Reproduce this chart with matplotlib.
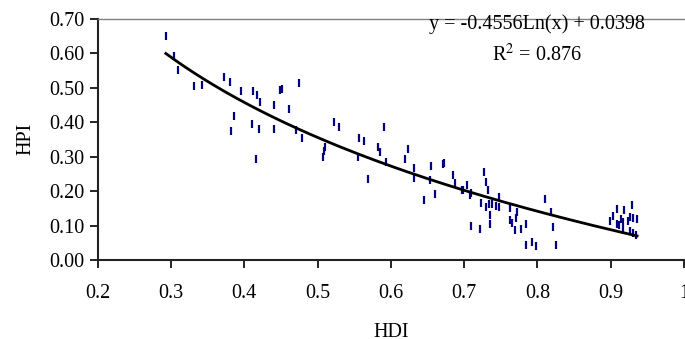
import numpy as np
import matplotlib.pyplot as plt

# HDI / HPI pairs
hdi = [0.293, 0.304, 0.309, 0.332, 0.342, 0.372, 0.380, 0.386, 0.382, 0.396,
       0.410, 0.412, 0.417, 0.421, 0.420, 0.416, 0.441, 0.440, 0.449, 0.452,
       0.461, 0.475, 0.471, 0.479, 0.508, 0.509, 0.510, 0.522, 0.529, 0.556,
       0.564, 0.555, 0.569, 0.583, 0.585, 0.591, 0.594, 0.623, 0.620, 0.632,
       0.632, 0.645, 0.655, 0.653, 0.660, 0.671, 0.672, 0.685, 0.688, 0.697,
       0.699, 0.704, 0.708, 0.710, 0.709, 0.722, 0.727, 0.730, 0.733, 0.723,
       0.730, 0.734, 0.738, 0.735, 0.735, 0.744, 0.747, 0.747, 0.762, 0.763,
       0.765, 0.771, 0.772, 0.770, 0.778, 0.785, 0.784, 0.793, 0.798, 0.810,
       0.819, 0.821, 0.826, 0.899, 0.903, 0.908, 0.909, 0.912, 0.914, 0.917,
       0.918, 0.917, 0.924, 0.926, 0.929, 0.930, 0.927, 0.931, 0.936, 0.934]
hpi = [0.649, 0.591, 0.551, 0.504, 0.507, 0.530, 0.515, 0.418, 0.374, 0.490,
       0.395, 0.490, 0.478, 0.459, 0.379, 0.292, 0.451, 0.379, 0.493, 0.497,
       0.437, 0.514, 0.377, 0.355, 0.300, 0.315, 0.329, 0.399, 0.385, 0.355,
       0.344, 0.298, 0.234, 0.329, 0.314, 0.385, 0.284, 0.322, 0.292, 0.266,
       0.239, 0.174, 0.273, 0.232, 0.191, 0.278, 0.282, 0.247, 0.222, 0.203,
       0.203, 0.217, 0.190, 0.193, 0.099, 0.089, 0.254, 0.226, 0.203, 0.166,
       0.155, 0.162, 0.162, 0.130, 0.104, 0.157, 0.183, 0.155, 0.150, 0.116,
       0.106, 0.121, 0.140, 0.087, 0.089, 0.104, 0.043, 0.052, 0.040, 0.177,
       0.138, 0.096, 0.043, 0.114, 0.129, 0.147, 0.104, 0.101, 0.118, 0.111,
       0.144, 0.087, 0.112, 0.126, 0.159, 0.121, 0.084, 0.078, 0.118, 0.073]

# logarithmic trend line from the chart
slope = -0.4556
intercept = 0.0398
r2 = 0.876

x_ticks = [0.2, 0.3, 0.4, 0.5, 0.6, 0.7, 0.8, 0.9, 1.0]
x_tick_labels = ["0.2", "0.3", "0.4", "0.5", "0.6", "0.7", "0.8", "0.9", "1"]
y_ticks = [0.0, 0.1, 0.2, 0.3, 0.4, 0.5, 0.6, 0.7]

plt.rcParams['font.family'] = ['Liberation Serif', 'DejaVu Serif']
plt.rcParams['mathtext.fontset'] = 'stix'
fs = 14.5

fig = plt.figure(figsize=(6.85, 3.39), dpi=100)
ax = fig.add_axes([0.1426, 0.233, 0.8559, 0.7118])

ax.plot(hdi, hpi, linestyle='none', marker='|', color='#000080',
        markersize=6, markeredgewidth=1.6)

xs = np.linspace(min(hdi), max(hdi), 200)
ax.plot(xs, slope * np.log(xs) + intercept, color='black', linewidth=2)

ax.set_xlim(0.2, 1.0)
ax.set_ylim(0.0, 0.7)
ax.set_xticks(x_ticks)
ax.set_xticklabels(x_tick_labels)
ax.set_yticks(y_ticks)
ax.set_yticklabels([f"{v:.2f}" for v in y_ticks])

ax.tick_params(axis='both', direction='out', length=5.5, width=1.2,
               labelsize=fs, colors='black')
ax.tick_params(axis='x', pad=12)
ax.tick_params(axis='y', pad=4)

for side in ['left', 'bottom']:
    ax.spines[side].set_color('#222222')
    ax.spines[side].set_linewidth(1.5)
ax.spines['top'].set_color('#808080')
ax.spines['top'].set_linewidth(1.0)
ax.spines['right'].set_visible(False)

ax.set_xlabel('HDI', fontsize=fs, labelpad=14)
ax.set_ylabel('HPI', fontsize=fs, labelpad=10)

ax.text(0.749, 0.978, 'y = -0.4556Ln(x) + 0.0398', transform=ax.transAxes,
        ha='center', va='center', fontsize=fs)
ax.text(0.749, 0.85, r'R$^2$ = 0.876', transform=ax.transAxes,
        ha='center', va='center', fontsize=fs)

fig.savefig('out.png', dpi=100)
